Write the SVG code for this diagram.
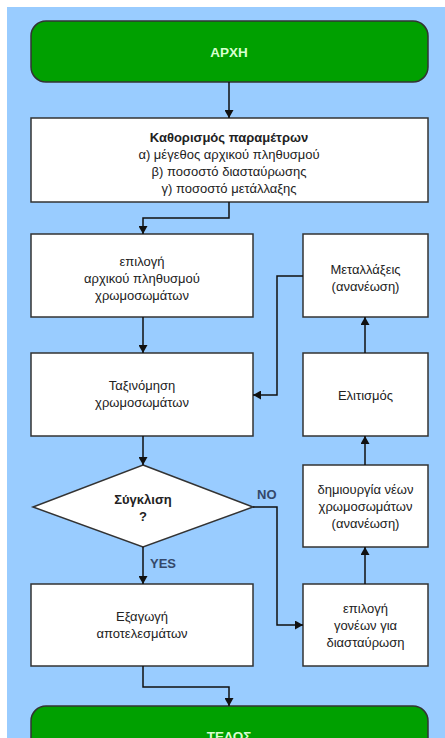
<svg xmlns="http://www.w3.org/2000/svg" width="445" height="738" viewBox="0 0 445 738">
<defs>
<marker id="ah" markerUnits="userSpaceOnUse" markerWidth="9" markerHeight="9" refX="8" refY="4.5" orient="auto">
<path d="M0,0 L8,4.5 L0,9 z" fill="#111"/>
</marker>
<style>
.box{fill:#fff;stroke:#333;stroke-width:1.5}
.term{fill:#00a000;stroke:#333;stroke-width:1.5}
.t{font-family:"Liberation Sans",Arial,sans-serif;font-size:13px;fill:#222;text-anchor:middle}
.b{font-weight:bold}
.tt{font-family:"Liberation Sans",Arial,sans-serif;font-size:13.5px;font-weight:bold;fill:#d8ffd0;text-anchor:middle}
.lbl{font-family:"Liberation Sans",Arial,sans-serif;font-size:13px;font-weight:bold;fill:#34486a}
.c{fill:none;stroke:#111;stroke-width:1.5;marker-end:url(#ah)}
</style>
</defs>
<rect x="7" y="7" width="438" height="731" fill="#99ccff"/>
<g id="start">
<rect class="term" x="31" y="21" width="397" height="61" rx="15"/>
<text class="tt" x="229" y="57">ΑΡΧΗ</text>
</g>
<g id="params">
<rect class="box" x="31" y="118" width="397" height="84"/>
<text class="t b" x="229" y="142">Καθορισμός παραμέτρων</text>
<text class="t" x="229" y="159">α) μέγεθος αρχικού πληθυσμού</text>
<text class="t" x="229" y="176">β) ποσοστό διασταύρωσης</text>
<text class="t" x="229" y="193">γ) ποσοστό μετάλλαξης</text>
</g>
<g id="init">
<rect class="box" x="31" y="234" width="222" height="83"/>
<text class="t" x="142" y="266">επιλογή</text>
<text class="t" x="142" y="283">αρχικού πληθυσμού</text>
<text class="t" x="142" y="300">χρωμοσωμάτων</text>
</g>
<g id="mutation">
<rect class="box" x="303" y="234" width="125" height="83"/>
<text class="t" x="365.5" y="274">Μεταλλάξεις</text>
<text class="t" x="365.5" y="291">(ανανέωση)</text>
</g>
<g id="sort">
<rect class="box" x="31" y="353" width="222" height="83"/>
<text class="t" x="142" y="390">Ταξινόμηση</text>
<text class="t" x="142" y="407">χρωμοσωμάτων</text>
</g>
<g id="elitism">
<rect class="box" x="303" y="353" width="125" height="83"/>
<text class="t" x="365.5" y="400">Ελιτισμός</text>
</g>
<g id="converge">
<polygon class="box" points="143,465 253,507 143,547 33,507"/>
<text class="t b" x="143" y="504">Σύγκλιση</text>
<text class="t b" x="143" y="521">?</text>
</g>
<g id="create">
<rect class="box" x="303" y="465" width="125" height="82"/>
<text class="t" x="365.5" y="494">δημιουργία νέων</text>
<text class="t" x="365.5" y="511">χρωμοσωμάτων</text>
<text class="t" x="365.5" y="528">(ανανέωση)</text>
</g>
<g id="export">
<rect class="box" x="31" y="584" width="222" height="82"/>
<text class="t" x="142" y="621">Εξαγωγή</text>
<text class="t" x="142" y="638">αποτελεσμάτων</text>
</g>
<g id="parents">
<rect class="box" x="303" y="584" width="125" height="82"/>
<text class="t" x="365.5" y="613">επιλογή</text>
<text class="t" x="365.5" y="630">γονέων για</text>
<text class="t" x="365.5" y="647">διασταύρωση</text>
</g>
<g id="end">
<rect class="term" x="31" y="706" width="397" height="61" rx="15"/>
<text class="tt" x="229" y="741">ΤΕΛΟΣ</text>
</g>
<g id="connectors">
<path class="c" d="M229,82 V118"/>
<path class="c" d="M229,202 V218 H143 V234"/>
<path class="c" d="M143,317 V353"/>
<path class="c" d="M143,436 V465"/>
<path class="c" d="M143,547 V584"/>
<path class="c" d="M253,507 H277 V625 H303"/>
<path class="c" d="M365,584 V547"/>
<path class="c" d="M365,465 V436"/>
<path class="c" d="M365,353 V317"/>
<path class="c" d="M303,276 H277 V395 H253"/>
<path class="c" d="M143,666 V687 H229 V706"/>
<text class="lbl" x="257" y="499">NO</text>
<text class="lbl" x="150" y="568">YES</text>
</g>
</svg>
